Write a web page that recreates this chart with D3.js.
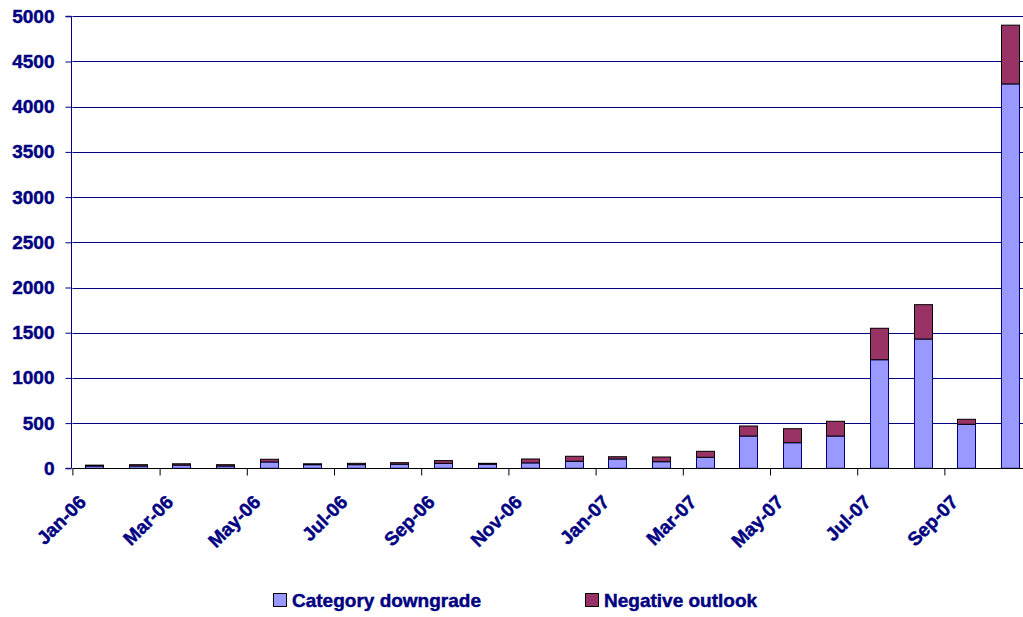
<!DOCTYPE html>
<html>
<head>
<meta charset="utf-8">
<script src="https://cdn.jsdelivr.net/npm/d3@7"></script>
<style>
  html, body { margin: 0; padding: 0; background: #fff; }
  svg { display: block; overflow: hidden; }
  text { font-family: Arial, "Liberation Sans", sans-serif; font-weight: bold; fill: #000080; stroke: #000080; stroke-width: 0.45px; }
</style>
</head>
<body>
<svg id="chart" width="1023" height="617"></svg>
<script>
// Monthly rating actions, Jan 2006 – Oct 2007
const months = ["Jan-06","Feb-06","Mar-06","Apr-06","May-06","Jun-06","Jul-06","Aug-06","Sep-06","Oct-06","Nov-06","Dec-06",
                "Jan-07","Feb-07","Mar-07","Apr-07","May-07","Jun-07","Jul-07","Aug-07","Sep-07","Oct-07"];
const categoryDowngrade = [25,25,35,25,70,40,40,45,55,45,60,78,103,73,122,357,283,357,1201,1430,487,4252];
const negativeOutlook   = [10,15,15,15,30,10,15,17,30,10,43,55,25,52,66,111,155,163,348,380,55,650];
const seriesNames = ["Category downgrade", "Negative outlook"];
const seriesColors = ["#9999FF", "#993366"];
const seriesStrokes = ["#000080", "#000000"];
const yTicks = [0,500,1000,1500,2000,2500,3000,3500,4000,4500,5000];

const svg = d3.select("#chart");
const plot = { left: 72.4, top: 16.3, bottom: 468.3 };
const bandStep = 43.6;
const plotRight = plot.left + bandStep * months.length;

const x = d3.scaleBand().domain(months).range([plot.left, plotRight]).paddingInner(1.4 / 2.4).paddingOuter(0.7 / 2.4);
const xIdx = d3.scaleLinear().domain([0, months.length]).range([plot.left, plotRight]);
const y = d3.scaleLinear().domain([0, 5000]).range([plot.bottom, plot.top]);

const crisp = v => Math.round(v) + 0.5;

// horizontal gridlines
svg.append("g").selectAll("line").data(yTicks.filter(d => d > 0)).join("line")
  .attr("x1", plot.left).attr("x2", plotRight)
  .attr("y1", d => crisp(y(d))).attr("y2", d => crisp(y(d)))
  .attr("stroke", "#000080").attr("stroke-width", 1);

// stacked bars
const rows = months.map((m, i) => ({ month: m, down: categoryDowngrade[i], neg: negativeOutlook[i] }));
const stack = d3.stack().keys(["down", "neg"])(rows);

stack.forEach((layer, k) => {
  svg.append("g").selectAll("rect").data(layer).join("rect")
    .attr("x", d => Math.round(x(d.data.month)) + 0.5)
    .attr("width", Math.round(x.bandwidth()))
    .attr("y", d => y(d[1]))
    .attr("height", d => y(d[0]) - y(d[1]))
    .attr("fill", seriesColors[k])
    .attr("stroke", seriesStrokes[k])
    .attr("stroke-width", 1);
});

// y axis
const yAxis = svg.append("g").attr("transform", `translate(${crisp(plot.left) - 1},0)`)
  .call(d3.axisLeft(y).tickValues(yTicks).tickSize(6).tickPadding(11).tickFormat(d3.format("d")));
yAxis.select(".domain").attr("stroke", "#000080").attr("d", `M-6,${plot.bottom}H0V${plot.top}H-6`);
yAxis.selectAll(".tick line").attr("stroke", "#000080");
yAxis.selectAll(".tick text").attr("fill", "#000080").style("font-size", "19px");

// x axis line and tick marks every second month
const tickIdx = d3.range(0, months.length + 1, 2);
const xAxis = svg.append("g").attr("transform", `translate(0,${crisp(plot.bottom)})`)
  .call(d3.axisBottom(xIdx).tickValues(tickIdx).tickSize(7).tickFormat(""));
xAxis.select(".domain").attr("stroke", "#000000").attr("d", `M${plot.left},0H${plotRight}`);
xAxis.selectAll(".tick line").attr("stroke", "#000000");

// rotated month labels
const labelMonths = months.filter((m, i) => i % 2 === 0);
svg.append("g").selectAll("text").data(labelMonths).join("text")
  .attr("transform", d => `translate(${x(d) + x.bandwidth() / 2 - 7},${plot.bottom + 35}) rotate(-45)`)
  .attr("text-anchor", "end")
  .style("font-size", "19px")
  .text(d => d);

// legend
const legendItems = [{ x: 273, name: seriesNames[0], color: seriesColors[0] },
                     { x: 585, name: seriesNames[1], color: seriesColors[1] }];
const lg = svg.append("g").selectAll("g").data(legendItems).join("g")
  .attr("transform", d => `translate(${d.x},593)`);
lg.append("rect").attr("x", 0.5).attr("y", 0.5).attr("width", 13).attr("height", 13)
  .attr("fill", d => d.color).attr("stroke", "#000").attr("stroke-width", 1);
lg.append("text").attr("x", 19).attr("y", 13.5).style("font-size", "19px").text(d => d.name);
</script>
</body>
</html>
